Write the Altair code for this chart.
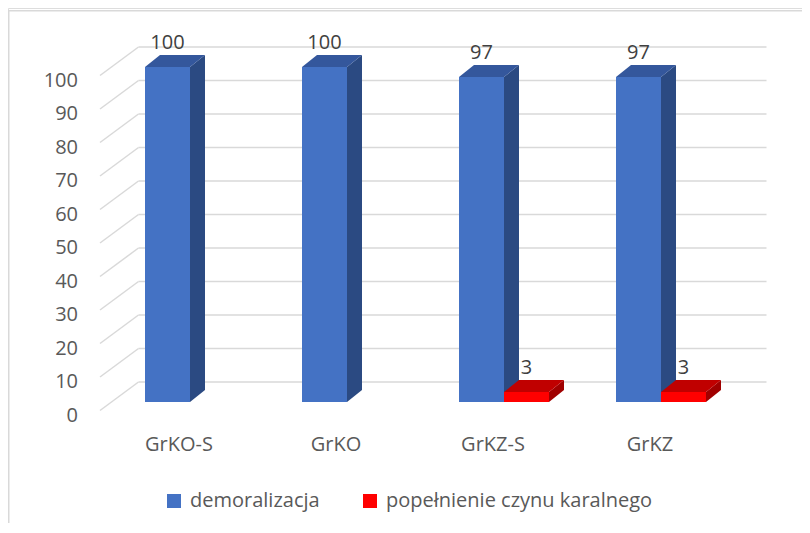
import altair as alt
import pandas as pd

categories = ["GrKO-S", "GrKO", "GrKZ-S", "GrKZ"]
series_names = ["demoralizacja", "popełnienie czynu karalnego"]
demoralizacja = [100, 100, 97, 97]
popelnienie = [0, 0, 3, 3]
y_ticks = [0, 10, 20, 30, 40, 50, 60, 70, 80, 90, 100]

# layout constants (scale units)
BW = 45 / 157.0      # bar width in x units
DX = 15 / 157.0      # depth in x units
DY = 12 / 3.35       # depth in y units
NCAT = len(categories)

front_colors = ["#4472C4", "#FF0000"]
top_colors = ["#34579C", "#C00000"]
side_colors = ["#2B4A82", "#A00000"]

FONT = "Open Sans"

xs = alt.Scale(domain=[0, NCAT], range=[103.5, 731.5])
ys = alt.Scale(domain=[0, 100], range=[394, 59])

front_rows, side_rows, top_rows, label_rows = [], [], [], []
for si, (name, vals) in enumerate(zip(series_names, [demoralizacja, popelnienie])):
    for ci, (cat, v) in enumerate(zip(categories, vals)):
        if v == 0:
            continue
        xl = ci + 0.5 - BW + si * BW
        xr = xl + BW
        bid = f"{si}-{ci}"
        front_rows.append(dict(series=name, s=si, x=xl, x2=xr, v=v, base=0))
        side_rows += [dict(s=si, bid=bid, x=xr, y=v, y2=0),
                      dict(s=si, bid=bid, x=xr + DX, y=v + DY, y2=DY)]
        top_rows += [dict(s=si, bid=bid, y=v, x=xl, x2=xr),
                     dict(s=si, bid=bid, y=v + DY, x=xl + DX, x2=xr + DX)]
        label_rows.append(dict(s=si, xc=(xl + xr) / 2, v=v, t=str(v)))

front = pd.DataFrame(front_rows)
side = pd.DataFrame(side_rows)
top = pd.DataFrame(top_rows)
labels = pd.DataFrame(label_rows)
grid = pd.DataFrame({"v": y_ticks, "xa": 0, "xb": NCAT})
cats = pd.DataFrame({"cat": categories, "xc": [i + 0.5 for i in range(NCAT)], "base": 0})

X = lambda f: alt.X(f, scale=xs, axis=None)
Y = lambda f: alt.Y(f, scale=ys, axis=None)

layers = []

# outer frame (left and top edges)
layers.append(alt.Chart(grid.head(1)).mark_rule(color="#d9d9d9", strokeWidth=1.5).encode(
    x=alt.value(0.75), y=alt.value(2), y2=alt.value(530)))
layers.append(alt.Chart(grid.head(1)).mark_rule(color="#d9d9d9", strokeWidth=1.5).encode(
    y=alt.value(2.75), x=alt.value(0), x2=alt.value(810)))

# back wall gridlines
layers.append(alt.Chart(grid).mark_rule(color="#d9d9d9", strokeWidth=1.5, xOffset=27, x2Offset=27, yOffset=-20, y2Offset=-20).encode(
    x=X("xa:Q"), x2="xb:Q", y=Y("v:Q")))
# side diagonals
layers.append(alt.Chart(grid).mark_rule(color="#d9d9d9", strokeWidth=1.5, xOffset=-11.5, x2Offset=27, yOffset=8.5, y2Offset=-20).encode(
    x=X("xa:Q"), x2="xa:Q", y=Y("v:Q"), y2="v:Q"))
# y labels
layers.append(alt.Chart(grid).mark_text(align="right", baseline="middle", font=FONT, fontSize=20, color="#595959", xOffset=-33.5, yOffset=13.5).encode(
    x=X("xa:Q"), y=Y("v:Q"), text="v:Q"))

for si in range(2):
    layers.append(alt.Chart(side).transform_filter(alt.datum.s == si).mark_area(color=side_colors[si]).encode(
        x=X("x:Q"), y=Y("y:Q"), y2="y2:Q", detail="bid:N"))
    layers.append(alt.Chart(top).transform_filter(alt.datum.s == si).mark_area(color=top_colors[si], orient="horizontal").encode(
        y=Y("y:Q"), x=X("x:Q"), x2="x2:Q", detail="bid:N"))
    layers.append(alt.Chart(front).transform_filter(alt.datum.s == si).mark_rect().encode(
        x=X("x:Q"), x2="x2:Q", y=Y("v:Q"), y2="base:Q",
        color=alt.Color("series:N", scale=alt.Scale(domain=series_names, range=front_colors),
                        legend=alt.Legend(title=None, orient="none", legendX=156, legendY=483, direction="horizontal",
                                          symbolType="square", symbolSize=196, symbolStrokeWidth=0,
                                          labelFont=FONT, labelFontSize=20, labelColor="#595959", labelLimit=0,
                                          labelOffset=6, columnPadding=40, symbolOpacity=1))))

# data labels
layers.append(alt.Chart(labels).mark_text(baseline="middle", align="center", font=FONT, fontSize=20, color="#404040", yOffset=-24).encode(
    x=X("xc:Q"), y=Y("v:Q"), text="t:N"))

# category labels
layers.append(alt.Chart(cats).mark_text(baseline="middle", align="center", font=FONT, fontSize=20, color="#595959", xOffset=-11, yOffset=43).encode(
    x=X("xc:Q"), y=Y("base:Q"), text="cat:N"))

chart = alt.layer(*layers).properties(
    width=794, height=515, padding=0, autosize=alt.AutoSizeParams(type="none")
).configure_view(stroke=None).configure(background="white")

chart.save("out.html", embed_options={"renderer": "svg", "actions": False})
